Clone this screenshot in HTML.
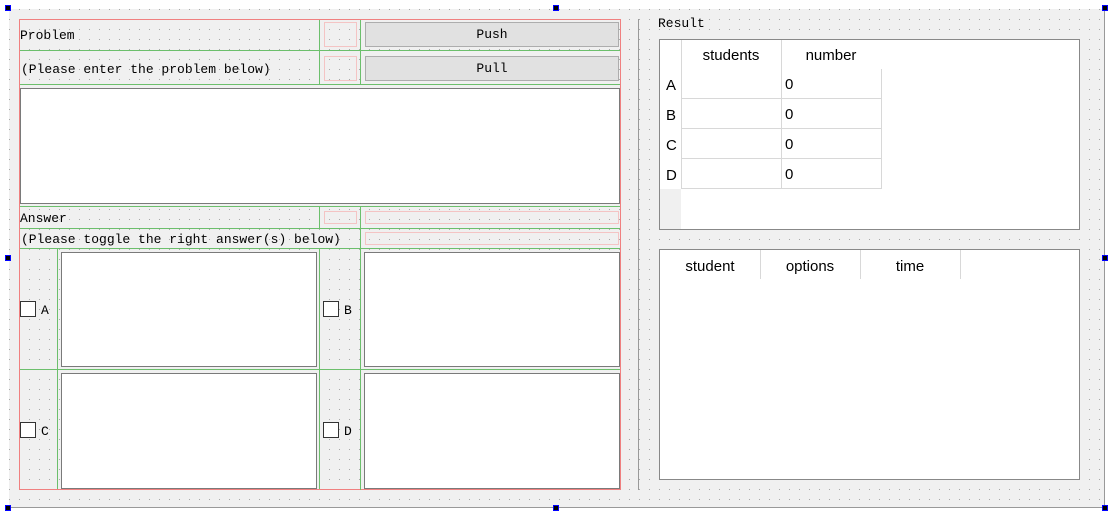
<!DOCTYPE html>
<html><head><meta charset="utf-8"><style>
*{box-sizing:border-box;margin:0;padding:0}
body{width:1114px;height:517px;background:#fff;position:relative;overflow:hidden;font-family:"Liberation Mono",monospace;font-size:13px;color:#000}
.a{position:absolute}
#form{left:9px;top:9px;width:1096px;height:499px;background-color:#f0f0f0;background-image:linear-gradient(#f0f0f0 0,#f0f0f0 9px,transparent 9px),linear-gradient(90deg,#f0f0f0 0,#f0f0f0 9px,#a8a8a8 9px,#a8a8a8 10px);background-size:10px 10px;background-position:0 1px,1px 0;border-right:1px solid #999;border-bottom:1px solid #999}
.g{background:#6cbf6c}
.r{border:1px solid #f08080}
.pk{border:1px solid #f4c4c4}
.btn{background:#e1e1e1;border:1px solid #adadad;text-align:center;line-height:22px}
.te{background:#fff;border:1px solid #7a7a7a}
.cb{width:16px;height:16px;background:#fff;border:1px solid #333}
.h{width:6px;height:6px;background:#000;border:1px solid #00f}
.tb{background:#fff;border:1px solid #888;font-family:"Liberation Sans",sans-serif;font-size:15px}
.gl{background:#d8d8d8}
</style></head><body>
<div id="form" class="a"></div>
<div class="a r" style="left:19px;top:19px;width:602px;height:471px"></div>
<div class="a g" style="left:20px;top:50px;width:600px;height:1px"></div>
<div class="a g" style="left:20px;top:84px;width:600px;height:1px"></div>
<div class="a g" style="left:20px;top:206px;width:600px;height:1px"></div>
<div class="a g" style="left:20px;top:228px;width:600px;height:1px"></div>
<div class="a g" style="left:20px;top:248px;width:600px;height:1px"></div>
<div class="a g" style="left:20px;top:369px;width:600px;height:1px"></div>
<div class="a g" style="left:319px;top:20px;width:1px;height:65px"></div>
<div class="a g" style="left:360px;top:20px;width:1px;height:65px"></div>
<div class="a g" style="left:319px;top:206px;width:1px;height:23px"></div>
<div class="a g" style="left:360px;top:206px;width:1px;height:284px"></div>
<div class="a g" style="left:57px;top:248px;width:1px;height:241px"></div>
<div class="a g" style="left:319px;top:248px;width:1px;height:241px"></div>
<div class="a" style="left:20px;top:28px">Problem</div>
<div class="a" style="left:21px;top:62px">(Please enter the problem below)</div>
<div class="a" style="left:20px;top:211px">Answer</div>
<div class="a" style="left:21px;top:232px">(Please toggle the right answer(s) below)</div>
<div class="a pk" style="left:324px;top:22px;width:33px;height:25px"></div>
<div class="a pk" style="left:324px;top:56px;width:33px;height:25px"></div>
<div class="a btn" style="left:365px;top:22px;width:254px;height:25px;line-height:24px">Push</div>
<div class="a btn" style="left:365px;top:56px;width:254px;height:25px;line-height:24px">Pull</div>
<div class="a te" style="left:20px;top:88px;width:600px;height:116px"></div>
<div class="a pk" style="left:324px;top:211px;width:33px;height:13px"></div>
<div class="a pk" style="left:365px;top:211px;width:254px;height:13px"></div>
<div class="a pk" style="left:365px;top:232px;width:254px;height:13px"></div>
<div class="a te" style="left:61px;top:252px;width:256px;height:115px"></div>
<div class="a te" style="left:364px;top:252px;width:256px;height:115px"></div>
<div class="a te" style="left:61px;top:373px;width:256px;height:116px"></div>
<div class="a te" style="left:364px;top:373px;width:256px;height:116px"></div>
<div class="a cb" style="left:20px;top:301px"></div><div class="a" style="left:41px;top:303px">A</div>
<div class="a cb" style="left:323px;top:301px"></div><div class="a" style="left:344px;top:303px">B</div>
<div class="a cb" style="left:20px;top:422px"></div><div class="a" style="left:41px;top:424px">C</div>
<div class="a cb" style="left:323px;top:422px"></div><div class="a" style="left:344px;top:424px">D</div>
<div class="a" style="left:638px;top:19px;width:1px;height:471px;background:#999"></div>
<div class="a" style="left:658px;top:16px">Result</div>
<div class="a tb" style="left:659px;top:39px;width:421px;height:191px">
 <div class="a" style="left:0;top:149px;width:21px;height:40px;background:#f0f0f0"></div>
 <div class="a" style="left:21px;top:7px;width:100px;text-align:center">students</div>
 <div class="a" style="left:121px;top:7px;width:100px;text-align:center">number</div>
 <div class="a gl" style="left:121px;top:0;width:1px;height:29px"></div>
 <div class="a gl" style="left:21px;top:58px;width:200px;height:1px"></div>
 <div class="a gl" style="left:21px;top:88px;width:200px;height:1px"></div>
 <div class="a gl" style="left:21px;top:118px;width:200px;height:1px"></div>
 <div class="a gl" style="left:21px;top:148px;width:200px;height:1px"></div>
 <div class="a gl" style="left:21px;top:0;width:1px;height:149px"></div>
 <div class="a gl" style="left:121px;top:29px;width:1px;height:120px"></div>
 <div class="a gl" style="left:221px;top:29px;width:1px;height:120px"></div>
 <div class="a" style="left:6px;top:37px">A</div><div class="a" style="left:125px;top:36px">0</div>
 <div class="a" style="left:6px;top:67px">B</div><div class="a" style="left:125px;top:66px">0</div>
 <div class="a" style="left:6px;top:97px">C</div><div class="a" style="left:125px;top:96px">0</div>
 <div class="a" style="left:6px;top:127px">D</div><div class="a" style="left:125px;top:126px">0</div>
</div>
<div class="a tb" style="left:659px;top:249px;width:421px;height:231px">
 <div class="a" style="left:0;top:8px;width:100px;text-align:center">student</div>
 <div class="a" style="left:100px;top:8px;width:100px;text-align:center">options</div>
 <div class="a" style="left:200px;top:8px;width:100px;text-align:center">time</div>
 <div class="a gl" style="left:100px;top:0;width:1px;height:29px"></div>
 <div class="a gl" style="left:200px;top:0;width:1px;height:29px"></div>
 <div class="a gl" style="left:300px;top:0;width:1px;height:29px"></div>
</div>
<div class="a h" style="left:5px;top:5px"></div>
<div class="a h" style="left:553px;top:5px"></div>
<div class="a h" style="left:1102px;top:5px"></div>
<div class="a h" style="left:5px;top:255px"></div>
<div class="a h" style="left:1102px;top:255px"></div>
<div class="a h" style="left:5px;top:505px"></div>
<div class="a h" style="left:553px;top:505px"></div>
<div class="a h" style="left:1102px;top:505px"></div>
</body></html>
